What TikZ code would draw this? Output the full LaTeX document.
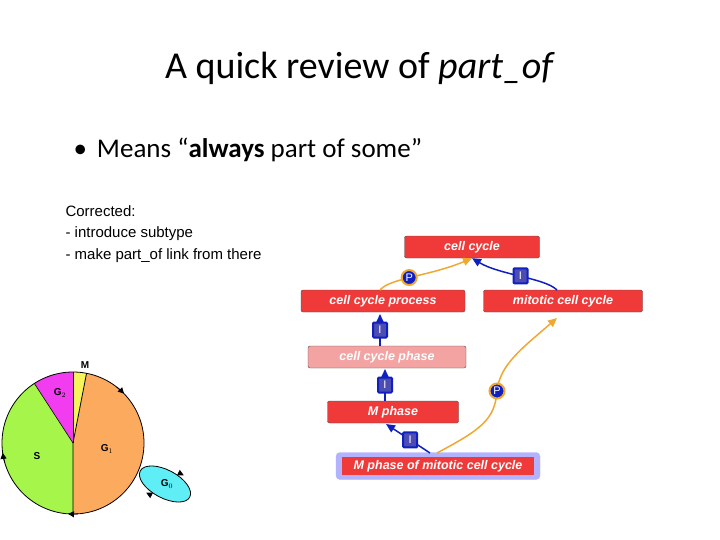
\documentclass[tikz,border=0pt]{standalone}
\usepackage{fontspec}
\setmainfont{Carlito}
\newfontfamily\arialf{Liberation Sans}
\usetikzlibrary{arrows.meta,shapes.geometric}
\definecolor{boxred}{HTML}{F03A3A}
\definecolor{pinkb}{HTML}{F4A3A3}
\definecolor{orl}{HTML}{F0A830}
\definecolor{bll}{HTML}{1020C0}
\definecolor{gone}{HTML}{FBAA5E}
\definecolor{sgr}{HTML}{A6F54A}
\definecolor{gtwo}{HTML}{F23CF0}
\definecolor{mye}{HTML}{F6F45A}
\definecolor{gzero}{HTML}{5FEEF5}
\begin{document}
\begin{tikzpicture}[x=1pt,y=-1pt,
  gbox/.style={draw=black!70,fill=boxred,rounded corners=2pt,minimum height=22pt,inner sep=0pt,text=white,font=\arialf\bfseries\itshape\fontsize{12.5}{14}\selectfont},
  plink/.style={draw=orl,line width=1.5pt,-{Triangle[length=9pt,width=8pt]}},
  ilink/.style={draw=bll,line width=1.5pt,-{Triangle[length=9pt,width=8pt]}},
  plab/.style={circle,fill=bll,draw=orl,line width=2pt,inner sep=1pt,minimum size=15pt,text=white,font=\arialf\fontsize{11}{12}\selectfont},
  ilab/.style={rectangle,rounded corners=1pt,fill=gray!60!blue,draw=bll,line width=2pt,inner sep=1pt,minimum width=14pt,minimum height=15pt,text=white,font=\arialf\fontsize{11}{12}\selectfont},
  arr/.style={-{Triangle[length=6pt,width=6pt]},line width=0.8pt},
  ptxt/.style={font=\arialf\bfseries\fontsize{10}{11}\selectfont}]
\useasboundingbox (0,0) rectangle (720,540);
\node (title) at (360,68) {\fontsize{38}{44}\selectfont A quick review of \textit{part\_of}};
\node[anchor=west] (bul) at (70,150) {\fontsize{27}{32}\selectfont •\hspace{10pt}Means “\textbf{always} part of some”};
\node[anchor=north west,align=left,font=\arialf\fontsize{15}{21.5}\selectfont] (corr) at (62,202) {Corrected:\\- introduce subtype\\- make part\_of link from there};
% graph
\node[gbox,minimum width=135pt] (cc) at (472,247) {cell cycle};
\node[gbox,minimum width=164pt] (ccp) at (383,301) {cell cycle process};
\node[gbox,minimum width=159pt] (mcc) at (563,301) {mitotic cell cycle};
\node[gbox,minimum width=158pt,fill=pinkb] (ccph) at (387,357) {cell cycle phase};
\node[gbox,minimum width=131pt] (mp) at (393,412) {M phase};
\node[draw=blue!30,fill=blue!30,rounded corners=4pt,minimum width=204pt,minimum height=27pt] (mpm) at (438,466) {};
\node[fill=boxred,inner sep=0pt,minimum width=192pt,minimum height=18pt,text=white,font=\arialf\bfseries\itshape\fontsize{12.5}{14}\selectfont] (mpmt) at (438,466) {M phase of mitotic cell cycle};
\draw[plink] (380,290) .. controls (390,278) and (430,276) .. (cc.south) node[plab,pos=0.45] (p1) {P};
\draw[ilink] (557,290) .. controls (545,278) and (500,275) .. (cc.south) node[ilab,pos=0.5] (i1) {I};
\draw[ilink] (380,346) -- (380,314) node[ilab,midway] (i2) {I};
\draw[ilink] (385,401) -- (385,369) node[ilab,midway] (i3) {I};
\draw[ilink] (430,453) -- (386,424) node[ilab,pos=0.45] (i4) {I};
\draw[plink] (437,453) .. controls (480,430) and (495,420) .. (497,391) .. controls (500,365) and (520,350) .. (557,318);
\node[plab] (p2) at (497,391) {P};
% G0
\node[draw=black,line width=0.8pt,fill=gzero,ellipse,minimum width=56pt,minimum height=28pt,rotate=-28] (g0) at (165,484) {};
\draw[arr] (g0.north) ++(8,2) -- ++(4,2);
\draw[arr] (g0.south) ++(-8,-2) -- ++(-4,-2);
% pie
\begin{scope}[shift={(73,443)},y=1pt]
\fill[gone] (0,0) -- (-90:71) arc[start angle=-90,end angle=79,radius=71] -- cycle;
\fill[mye] (0,0) -- (79:71) arc[start angle=79,end angle=90,radius=71] -- cycle;
\fill[gtwo] (0,0) -- (90:71) arc[start angle=90,end angle=123,radius=71] -- cycle;
\fill[sgr] (0,0) -- (123:71) arc[start angle=123,end angle=270,radius=71] -- cycle;
\draw[line width=0.8pt] (0,0) circle[radius=71];
\draw[line width=0.8pt] (0,-71) -- (0,0) -- (79:71);
\draw[line width=0.6pt] (0,0) -- (90:71);
\draw[line width=0.6pt] (0,0) -- (123:71);
\draw[arr] (52:71) arc[start angle=52,end angle=44,radius=71];
\draw[arr] (196:71) arc[start angle=196,end angle=188,radius=71];
\draw[arr] (-86:71) arc[start angle=-86,end angle=-94,radius=71];
\end{scope}
\node[ptxt] (lm) at (85,365) {M};
\node[ptxt] (lg2) at (60,393) {G$_2$};
\node[ptxt] (ls) at (37,456) {S};
\node[ptxt] (lg1) at (107,449) {G$_1$};
\node[ptxt] (lg0) at (167,484) {G$_0$};
\end{tikzpicture}
\end{document}
